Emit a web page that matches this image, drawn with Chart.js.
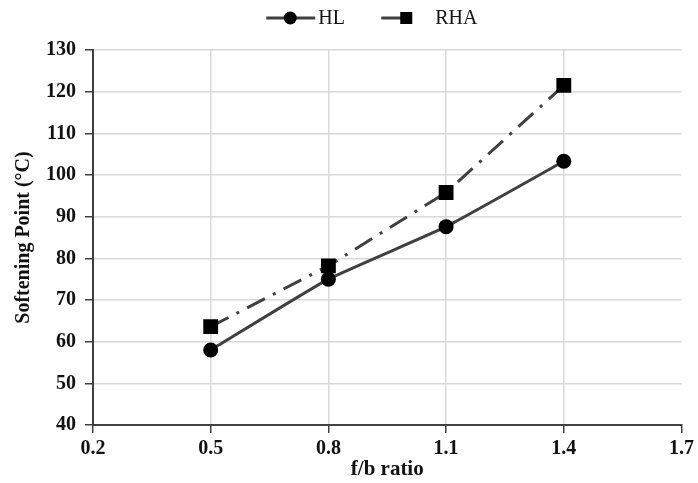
<!DOCTYPE html>
<html>
<head>
<meta charset="utf-8">
<script src="https://cdn.jsdelivr.net/npm/chart.js@4"></script>
<style>
  html, body { margin: 0; padding: 0; background: #fff; }
  #wrap { width: 698px; height: 483px; }
</style>
</head>
<body>
<div id="wrap"><canvas id="myChart" width="698" height="483"></canvas></div>
<script>
// data
const ratios = [0.5, 0.8, 1.1, 1.4];
const hlValues = [58, 75, 87.6, 103.3];
const rhaValues = [63.6, 78.2, 95.8, 121.5];
const seriesNames = ['HL', 'RHA'];
const xTicks = [0.2, 0.5, 0.8, 1.1, 1.4, 1.7];

const lineColor = '#404040';
const serif = "'Liberation Serif', 'Times New Roman', serif";

const hlPoints = ratios.map((x, i) => ({x: x, y: hlValues[i]}));
const rhaPoints = ratios.map((x, i) => ({x: x, y: rhaValues[i]}));

// excel-like legend: short line with the marker on it
const lineLegend = {
    id: 'lineLegend',
    afterDraw(chart) {
        const ctx = chart.ctx;
        const area = chart.chartArea;
        const cx = (area.left + area.right) / 2;
        const y = 18;
        const items = [
            {x: cx - 121, len: 49, mark: 24, kind: 'circle', text: 0},
            {x: cx - 6, len: 30, mark: 25, kind: 'rect', text: 54}
        ];
        ctx.save();
        ctx.font = "20px " + serif;
        ctx.textBaseline = 'middle';
        ctx.fillStyle = '#111';
        items.forEach((it, i) => {
            ctx.strokeStyle = lineColor;
            ctx.lineWidth = 3;
            ctx.beginPath();
            ctx.moveTo(it.x, y);
            ctx.lineTo(it.x + it.len, y);
            ctx.stroke();
            ctx.fillStyle = '#000';
            if (it.kind == 'circle') {
                ctx.beginPath();
                ctx.arc(it.x + it.mark, y, 6.5, 0, Math.PI * 2);
                ctx.fill();
            } else {
                ctx.fillRect(it.x + it.mark - 6, y - 6, 12, 12);
            }
            ctx.fillStyle = '#111';
            const tx = it.kind == 'circle' ? it.x + it.len + 3 : it.x + it.text;
            ctx.fillText(chart.data.datasets[i].label, tx, y + 1);
        });
        ctx.restore();
    }
};

const config = {
    type: 'line',
    data: {
        datasets: [{
            label: seriesNames[0],
            data: hlPoints,
            borderColor: lineColor,
            borderWidth: 3,
            pointStyle: 'circle',
            pointRadius: 7.5,
            pointBackgroundColor: '#000',
            pointBorderColor: '#000',
            pointBorderWidth: 0,
            tension: 0.12
        }, {
            label: seriesNames[1],
            data: rhaPoints,
            borderColor: lineColor,
            borderWidth: 3,
            borderDash: [20, 9, 3, 9],
            pointStyle: 'rect',
            pointRadius: 10.5,
            pointBackgroundColor: '#000',
            pointBorderColor: '#000',
            pointBorderWidth: 0,
            tension: 0
        }]
    },
    options: {
        responsive: false,
        animation: false,
        layout: { padding: { left: 10, right: 13, top: 50, bottom: 0 } },
        plugins: {
            tooltip: { enabled: false },
            legend: { display: false }
        },
        scales: {
            x: {
                type: 'linear',
                min: 0.2,
                max: 1.7,
                afterBuildTicks: s => { s.ticks = xTicks.map(v => ({value: v})); },
                afterFit: s => { s.height = 58; },
                ticks: {
                    color: '#111',
                    font: { family: serif, size: 20, weight: 'bold' },
                    callback: v => v.toFixed(1),
                    padding: 4,
                    maxRotation: 0
                },
                grid: {
                    color: ctx => (ctx.tick && Math.abs(ctx.tick.value - 1.7) < 0.01) ? 'rgba(0,0,0,0)' : '#d9d9d9',
                    tickColor: lineColor,
                    tickLength: 8,
                    lineWidth: 1.5
                },
                border: { color: lineColor, width: 2 },
                title: {
                    display: true,
                    text: 'f/b ratio',
                    color: '#111',
                    font: { family: serif, size: 21, weight: 'bold' },
                    padding: { top: 0, bottom: 1 }
                }
            },
            y: {
                min: 40,
                max: 130,
                afterFit: s => { s.width = 83; },
                ticks: {
                    stepSize: 10,
                    color: '#111',
                    font: { family: serif, size: 20, weight: 'bold' },
                    padding: 9
                },
                grid: {
                    color: '#d9d9d9',
                    tickColor: lineColor,
                    tickLength: 8,
                    lineWidth: 1.5
                },
                border: { color: lineColor, width: 2 },
                title: {
                    display: true,
                    text: 'Softening Point (°C)',
                    color: '#111',
                    font: { family: serif, size: 20, weight: 'bold' },
                    padding: { top: 2, bottom: 0 }
                }
            }
        }
    },
    plugins: [lineLegend]
};

const myChart = new Chart(document.getElementById('myChart'), config);
</script>
</body>
</html>
